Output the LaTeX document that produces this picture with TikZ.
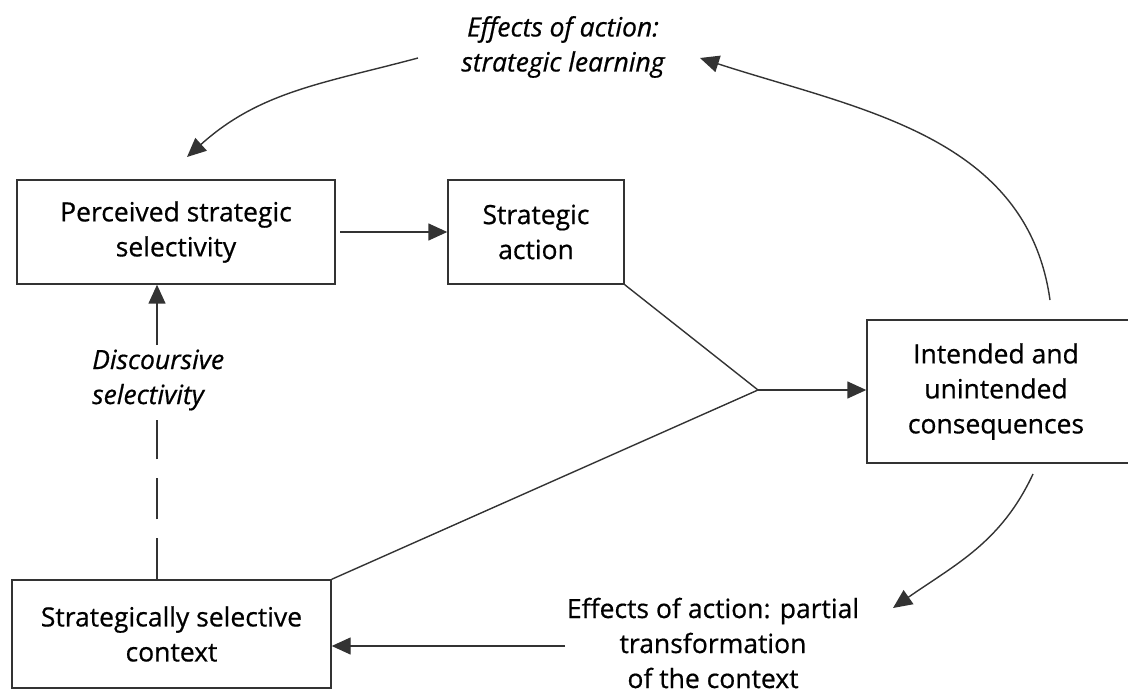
\documentclass[tikz,border=0pt]{standalone}
\usepackage{fontspec}
\setmainfont{Open Sans}[FakeBold=0.6]
\usetikzlibrary{arrows.meta}
\begin{document}
\begin{tikzpicture}[x=1pt,y=-1pt,
  box/.style={draw=black!80, line width=1.4pt, inner sep=0pt},
  lbl/.style={font=\fontsize{26.5}{35}\selectfont, align=center, text=black, inner sep=0pt},
  conn/.style={draw=black!80, line width=1.4pt},
  arr/.style={conn, -{Triangle[length=19pt,width=17pt]}}
]
\useasboundingbox (0,0) rectangle (1128,695);
% boxes
\node[box, minimum width=318pt, minimum height=104pt] (P) at (176,232) {};
\node[lbl] (Pt) at (176,232) {Perceived strategic\\selectivity};
\node[box, minimum width=176pt, minimum height=104pt] (S) at (536,232) {};
\node[lbl] (St) at (536,232) {Strategic\\action};
\node[box, minimum width=283pt, minimum height=143pt] (I) at (1008.5,391.5) {};
\node[lbl] (It) at (996,391.5) {Intended and\\unintended\\consequences};
\node[box, minimum width=319pt, minimum height=108pt] (C) at (171.5,634) {};
\node[lbl] (Ct) at (171.5,634) {Strategically selective\\context};
% labels
\node[lbl, font=\fontsize{26.5}{35}\selectfont\itshape] (L1) at (563,47) {Effects of action:\\strategic learning};
\node[lbl] (L2) at (713,643) {Effects of action: partial\\transformation\\of the context};
\node[lbl, font=\fontsize{26.5}{35}\selectfont\itshape, align=left, anchor=west] (L3) at (92,380) {Discoursive\\selectivity};
% coordinates
\coordinate (J) at (758,390);
\coordinate (d1) at (157,420);
\coordinate (d2) at (157,345);
\coordinate (a1) at (1050,300);
\coordinate (a1e) at (700,58);
\coordinate (a2) at (418,58);
\coordinate (a2e) at (187,157);
\coordinate (b1) at (1033,474);
\coordinate (b1e) at (893,608);
\coordinate (b2) at (565,646);
% connectors
\draw[arr] (340,232) -- (S.west);
\draw[conn] (S.south east) -- (J);
\draw[conn] (C.north east) -- (J);
\draw[arr] (J) -- (I.west |- J);
\draw[conn, dash pattern=on 41pt off 19pt] (C.north -| d1) -- (d1);
\draw[arr] (d2) -- (P.south -| d2);
\draw[arr] (a1) to[out=98, in=-18] (a1e);
\draw[arr] (a2) to[out=195, in=42] (a2e);
\draw[arr] (b1) to[out=-115, in=35] (b1e);
\draw[arr] (b2) -- (C.east |- b2);
\end{tikzpicture}
\end{document}
